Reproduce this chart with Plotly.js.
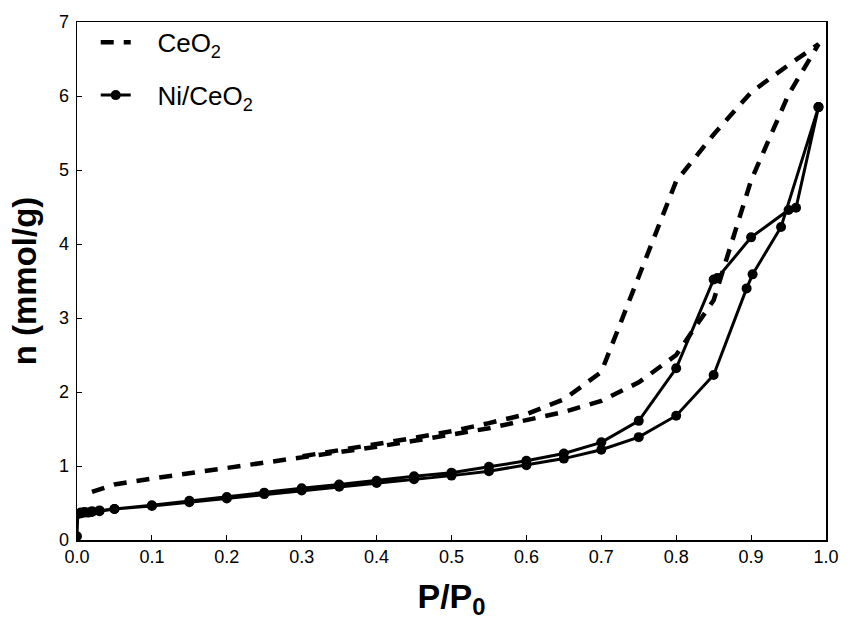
<!DOCTYPE html>
<html>
<head>
<meta charset="utf-8">
<script src="https://cdn.plot.ly/plotly-3.0.1.min.js"></script>
<style>html,body{margin:0;padding:0;background:#fff;}#chart{width:854px;height:620px;}</style>
</head>
<body>
<div id="chart"></div>
<script>
// CeO2 isotherm (adsorption then desorption branch)
const ceo2AdsX = [0.02, 0.05, 0.1, 0.15, 0.2, 0.25, 0.3, 0.35, 0.4, 0.45, 0.5, 0.55, 0.6, 0.65, 0.7, 0.75, 0.8, 0.85, 0.9, 0.95, 0.99];
const ceo2AdsY = [0.65, 0.75, 0.83, 0.90, 0.97, 1.04, 1.11, 1.18, 1.26, 1.34, 1.43, 1.51, 1.62, 1.73, 1.88, 2.13, 2.50, 3.24, 4.86, 6.02, 6.70];
const ceo2DesX = [0.99, 0.95, 0.9, 0.85, 0.8, 0.75, 0.7, 0.65, 0.6, 0.55, 0.5, 0.45, 0.4, 0.35, 0.3];
const ceo2DesY = [6.70, 6.42, 6.05, 5.48, 4.85, 3.56, 2.27, 1.90, 1.70, 1.58, 1.47, 1.38, 1.30, 1.22, 1.13];

// Ni/CeO2 isotherm
const niAdsX = [0, 0.001, 0.005, 0.01, 0.015, 0.02, 0.03, 0.05, 0.1, 0.15, 0.2, 0.25, 0.3, 0.35, 0.4, 0.45, 0.5, 0.55, 0.6, 0.65, 0.7, 0.75, 0.8, 0.85, 0.894, 0.902, 0.94, 0.99];
const niAdsY = [0.05, 0.35, 0.36, 0.37, 0.37, 0.38, 0.39, 0.42, 0.46, 0.51, 0.56, 0.62, 0.67, 0.72, 0.77, 0.82, 0.87, 0.93, 1.01, 1.10, 1.22, 1.39, 1.68, 2.23, 3.40, 3.59, 4.23, 5.85];
const niDesX = [0.99, 0.96, 0.95, 0.9, 0.855, 0.85, 0.8, 0.75, 0.7, 0.65, 0.6, 0.55, 0.5, 0.45, 0.4, 0.35, 0.3, 0.25, 0.2, 0.15, 0.1, 0.05, 0.03, 0.02, 0.01, 0.005];
const niDesY = [5.85, 4.49, 4.46, 4.09, 3.54, 3.52, 2.32, 1.61, 1.32, 1.17, 1.07, 0.99, 0.91, 0.86, 0.80, 0.75, 0.70, 0.64, 0.58, 0.53, 0.47, 0.42, 0.40, 0.39, 0.38, 0.37];

const xTicks = [0, 0.1, 0.2, 0.3, 0.4, 0.5, 0.6, 0.7, 0.8, 0.9, 1.0];
const xTickLabels = ['0.0','0.1','0.2','0.3','0.4','0.5','0.6','0.7','0.8','0.9','1.0'];
const yTicks = [0, 1, 2, 3, 4, 5, 6, 7];
const seriesNames = ['CeO<sub>2</sub>', 'Ni/CeO<sub>2</sub>'];

const font = 'Liberation Sans, Arial, sans-serif';
const pad = '\u00a0\u00a0\u00a0';

const traces = [
  {
    x: ceo2AdsX.concat(ceo2DesX),
    y: ceo2AdsY.concat(ceo2DesY),
    mode: 'lines',
    name: pad + seriesNames[0],
    legendgroup: 'a',
    line: {color: '#000', width: 4.5, dash: '13px,10px'}
  },
  {
    x: niAdsX.concat(niDesX),
    y: niAdsY.concat(niDesY),
    mode: 'lines+markers',
    name: pad + seriesNames[1],
    legendgroup: 'b',
    line: {color: '#000', width: 3},
    marker: {color: '#000', size: 10, symbol: 'circle'}
  }
];

const layout = {
  width: 854, height: 620,
  margin: {l: 77, r: 28, t: 22, b: 80},
  paper_bgcolor: '#fff', plot_bgcolor: '#fff',
  showlegend: true,
  legend: {
    x: 0.025, y: 1.006, xanchor: 'left', yanchor: 'top',
    bgcolor: 'rgba(0,0,0,0)', borderwidth: 0,
    font: {family: font, size: 26, color: '#000'},
    tracegroupgap: 16
  },
  xaxis: {
    range: [0, 1], tickvals: xTicks, ticktext: xTickLabels,
    ticks: 'inside', ticklen: 5, tickwidth: 1, tickcolor: '#000',
    showline: true, linecolor: '#000', linewidth: 1.5, mirror: true,
    showgrid: false, zeroline: false,
    tickfont: {family: font, size: 18, color: '#000'},
    title: {text: '<b>P/P<sub>0</sub></b>', font: {family: font, size: 34, color: '#000'}, standoff: 26}
  },
  yaxis: {
    range: [0, 7], tickvals: yTicks,
    ticks: 'inside', ticklen: 5, tickwidth: 1, tickcolor: '#000',
    ticklabelstandoff: 3,
    showline: true, linecolor: '#000', linewidth: 1.5, mirror: true,
    showgrid: false, zeroline: false,
    tickfont: {family: font, size: 18, color: '#000'},
    title: {text: '<b>n (mmol/g)</b>', font: {family: font, size: 33, color: '#000'}, standoff: 12}
  }
};

Plotly.newPlot('chart', traces, layout, {displayModeBar: false, staticPlot: true});
</script>
</body>
</html>
